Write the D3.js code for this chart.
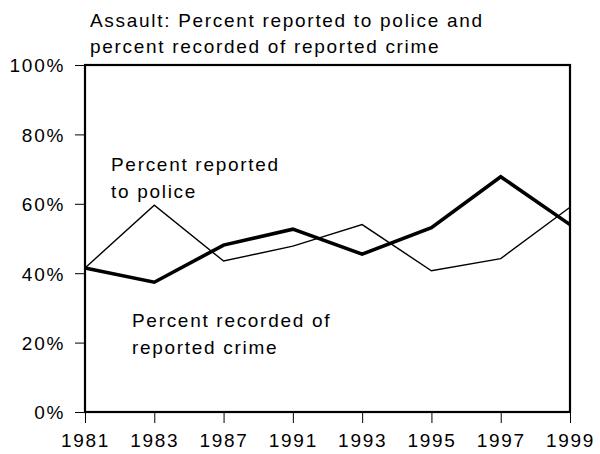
<!DOCTYPE html>
<html><head><meta charset="utf-8">
<script src="https://cdn.jsdelivr.net/npm/d3@7"></script>
<style>
body{margin:0;background:#fff;}
text{font-family:"Liberation Sans",Arial,sans-serif;fill:#000;}
</style></head>
<body><svg id="c" width="600" height="454"></svg>
<script>
const years = ["1981","1983","1987","1991","1993","1995","1997","1999"];
const reportedToPolice = [41.5, 59.6, 43.5, 47.8, 54.0, 40.7, 44.2, 59.0];
const recordedOfReported = [41.5, 37.4, 48.1, 52.7, 45.5, 53.1, 67.8, 54.0];
const yTicks = [0, 20, 40, 60, 80, 100];
const titleLines = ["Assault: Percent reported to police and", "percent recorded of reported crime"];
const labelReported = ["Percent reported", "to police"];
const labelRecorded = ["Percent recorded of", "reported crime"];

const svg = d3.select("#c");
const L = 85, R = 570, T = 65, B = 412;
const x = d3.scalePoint().domain(years).range([L, R]);
const y = d3.scaleLinear().domain([0, 100]).range([B, T]);
const FS = 19, LS = 1.7;

// y axis
const ya = svg.append("g").attr("transform", `translate(${L},0)`)
  .call(d3.axisLeft(y).tickValues(yTicks).tickFormat(d => d + "%").tickSize(10).tickPadding(10));
ya.select(".domain").remove();
ya.selectAll("line").attr("stroke", "#000").attr("stroke-width", 1);
ya.selectAll("text").attr("font-size", FS).attr("letter-spacing", LS).attr("dy", "0.36em")
  .attr("font-family", '"Liberation Sans",Arial,sans-serif');

// x axis
const xa = svg.append("g").attr("transform", `translate(0,${B})`)
  .call(d3.axisBottom(x).tickSize(11).tickPadding(6));
xa.select(".domain").remove();
xa.selectAll("line").attr("stroke", "#000").attr("stroke-width", 1);
xa.selectAll("text").attr("font-size", FS).attr("letter-spacing", LS).attr("dy", null).attr("y", 35)
  .attr("font-family", '"Liberation Sans",Arial,sans-serif');

// frame
svg.append("rect").attr("x", L).attr("y", T).attr("width", R - L).attr("height", B - T)
  .attr("fill", "none").attr("stroke", "#000").attr("stroke-width", 2.2);

const line = d3.line().x((d, i) => x(years[i])).y(d => y(d));
svg.append("path").datum(reportedToPolice).attr("d", line)
  .attr("fill", "none").attr("stroke", "#000").attr("stroke-width", 1.4).attr("stroke-linejoin", "miter");
svg.append("path").datum(recordedOfReported).attr("d", line)
  .attr("fill", "none").attr("stroke", "#000").attr("stroke-width", 3.6).attr("stroke-linejoin", "miter");

function block(lines, x0, y0, dy) {
  const t = svg.append("text").attr("font-size", FS).attr("letter-spacing", LS);
  lines.forEach((s, i) => t.append("tspan").attr("x", x0).attr("y", y0 + i * dy).text(s));
}
block(titleLines, 90, 27, 26);
block(labelReported, 111, 171, 27);
block(labelRecorded, 132, 327, 27);
</script></body></html>
